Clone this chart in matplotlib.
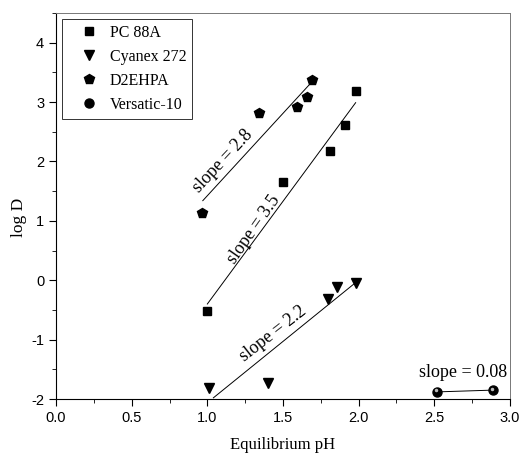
import matplotlib.pyplot as plt
from matplotlib.ticker import MultipleLocator

plt.rcParams["axes.unicode_minus"] = False

# extractant data: equilibrium pH vs log D
pc88a_ph = [1.0, 1.5, 1.81, 1.91, 1.98]
pc88a_logd = [-0.52, 1.66, 2.17, 2.62, 3.18]
pc88a_fit_ph = [1.0, 1.98]
pc88a_fit_logd = [-0.4, 2.99]

cyanex_ph = [1.01, 1.40, 1.80, 1.86, 1.98]
cyanex_logd = [-1.82, -1.73, -0.32, -0.12, -0.05]
cyanex_fit_ph = [1.04, 1.97]
cyanex_fit_logd = [-1.98, -0.06]

d2ehpa_ph = [0.965, 1.34, 1.59, 1.66, 1.69]
d2ehpa_logd = [1.13, 2.81, 2.91, 3.09, 3.38]
d2ehpa_fit_ph = [0.97, 1.68]
d2ehpa_fit_logd = [1.34, 3.31]

versatic_ph = [2.52, 2.89]
versatic_logd = [-1.88, -1.85]

slope_labels = ["slope = 2.8", "slope = 3.5", "slope = 2.2", "slope = 0.08"]

serif = "Liberation Serif"
sans = "Liberation Sans"

fig = plt.figure(figsize=(5.22, 4.58), dpi=100)
ax = fig.add_axes([0.1073, 0.1288, 0.8697, 0.8428])

ax.plot(pc88a_fit_ph, pc88a_fit_logd, color="black", lw=0.7)
ax.plot(cyanex_fit_ph, cyanex_fit_logd, color="black", lw=0.7)
ax.plot(d2ehpa_fit_ph, d2ehpa_fit_logd, color="black", lw=0.7)
ax.plot(versatic_ph, versatic_logd, color="black", lw=0.7)

ax.plot(pc88a_ph, pc88a_logd, "s", color="black", ms=6, ls="none", label="PC 88A")
ax.plot(cyanex_ph, cyanex_logd, "v", color="black", ms=7.5, ls="none", label="Cyanex 272")
ax.plot(d2ehpa_ph, d2ehpa_logd, "p", color="black", ms=7.5, ls="none", label="D2EHPA")
ax.plot(versatic_ph, versatic_logd, "o", color="black", ms=6.5, ls="none", label="Versatic-10")
ax.plot([p - 0.012 for p in versatic_ph], [v + 0.025 for v in versatic_logd], "o",
        color="#bbbbbb", ms=1.5, ls="none")

ax.text(1.10, 2.0, slope_labels[0], rotation=47, ha="center", va="center",
        fontsize=13, family=serif)
ax.text(1.31, 0.86, slope_labels[1], rotation=55, ha="center", va="center",
        fontsize=13, family=serif)
ax.text(1.435, -0.91, slope_labels[2], rotation=38, ha="center", va="center",
        fontsize=13, family=serif)
ax.text(2.69, -1.56, slope_labels[3], ha="center", va="center",
        fontsize=13, family=serif)

ax.set_xlim(0, 3.0)
ax.set_ylim(-2, 4.5)
ax.xaxis.set_major_locator(MultipleLocator(0.5))
ax.xaxis.set_minor_locator(MultipleLocator(0.25))
ax.yaxis.set_major_locator(MultipleLocator(1))
ax.yaxis.set_minor_locator(MultipleLocator(0.5))
ax.tick_params(which="both", direction="out", labelsize=10.5)
ax.tick_params(which="major", length=5)
ax.tick_params(which="minor", length=3)
for lab in ax.get_xticklabels() + ax.get_yticklabels():
    lab.set_family(sans)
for s in ["top", "right"]:
    ax.spines[s].set_color("#777777")
    ax.spines[s].set_linewidth(0.7)

ax.set_xlabel("Equilibrium pH", fontsize=12, family=serif, labelpad=9)
ax.set_ylabel("log D", fontsize=12.5, family=serif)
ax.yaxis.set_label_coords(-0.064, 0.47)

leg = ax.legend(loc="upper left", prop={"family": serif, "size": 11.5}, frameon=True,
                fancybox=False, edgecolor="black", borderaxespad=0.4,
                handlelength=2.6, handletextpad=0.0, labelspacing=0.5, borderpad=0.35)
leg.get_frame().set_linewidth(0.7)

fig.savefig("out.png", dpi=100)
